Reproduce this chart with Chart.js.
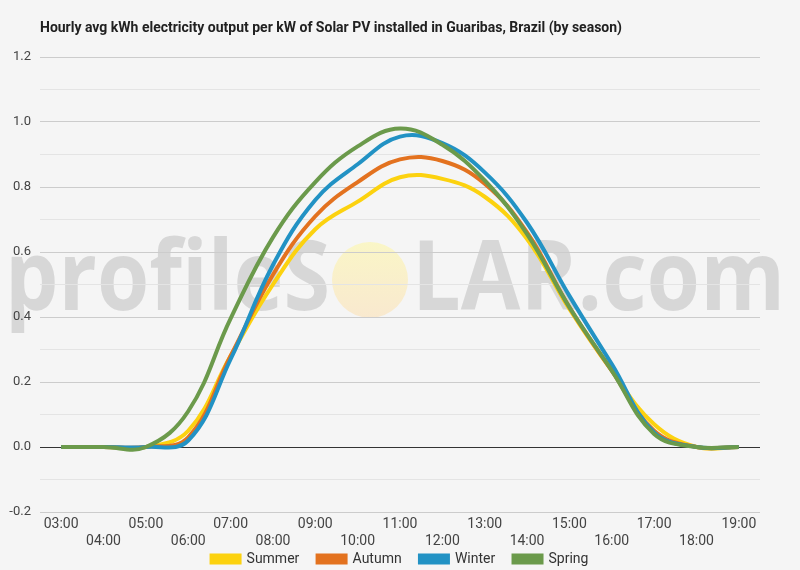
<!DOCTYPE html>
<html lang="en">
<head>
  <meta charset="UTF-8" />
  <title>Guaribas solar output by season</title>
  <script src="https://cdn.jsdelivr.net/npm/chart.js"></script>
  <style>
    html, body {
      margin: 0;
      padding: 0;
      background: #f5f5f5;
    }
    #wrap {
      width: 800px;
      height: 570px;
    }
  </style>
</head>
<body>
  <div id="wrap"><canvas id="solarChart" width="800" height="570"></canvas></div>

  <script>
    const titleText = "Hourly avg kWh electricity output per kW of Solar PV installed in Guaribas, Brazil (by season)";

    const hours = ["03:00", "04:00", "05:00", "06:00", "07:00", "08:00", "09:00", "10:00", "11:00",
                   "12:00", "13:00", "14:00", "15:00", "16:00", "17:00", "18:00", "19:00"];

    const summer = [0, 0, 0, 0.05, 0.28, 0.50, 0.67, 0.755, 0.83, 0.825, 0.77, 0.64, 0.425, 0.235, 0.07, 0, 0];
    const autumn = [0, 0, 0, 0.03, 0.28, 0.53, 0.71, 0.815, 0.885, 0.88, 0.81, 0.66, 0.43, 0.235, 0.05, 0, 0];
    const winter = [0, 0, 0, 0.02, 0.27, 0.56, 0.76, 0.87, 0.955, 0.935, 0.845, 0.69, 0.465, 0.255, 0.045, 0, 0];
    const spring = [0, 0, 0, 0.11, 0.395, 0.645, 0.815, 0.925, 0.98, 0.93, 0.82, 0.655, 0.43, 0.235, 0.04, 0, 0];

    const seasonNames = ["Summer", "Autumn", "Winter", "Spring"];
    const seasonColors = ["#fcd20f", "#e3721f", "#2292c4", "#6b9a4b"];

    // background + title + watermark
    const backdrop = {
      id: "backdrop",
      beforeDraw(chart) {
        const ctx = chart.ctx;
        ctx.save();
        ctx.fillStyle = "#f5f5f5";
        ctx.fillRect(0, 0, chart.width, chart.height);

        // profileSOLAR watermark
        ctx.fillStyle = "rgba(0,0,0,0.12)";
        ctx.font = "bold 96px 'Open Sans'";
        ctx.textBaseline = "alphabetic";
        const left = "profileS", right = "LAR.com";
        let w = ctx.measureText(left).width;
        ctx.save();
        ctx.translate(5, 310);
        ctx.scale(325 / w, 1);
        ctx.fillText(left, 0, 0);
        ctx.restore();
        w = ctx.measureText(right).width;
        ctx.save();
        ctx.translate(412, 310);
        ctx.scale(373 / w, 1);
        ctx.fillText(right, 0, 0);
        ctx.restore();

        const g = ctx.createLinearGradient(0, 242, 0, 318);
        g.addColorStop(0, "rgba(250,246,196,0.95)");
        g.addColorStop(1, "rgba(249,232,205,0.95)");
        ctx.fillStyle = g;
        ctx.beginPath();
        ctx.arc(370, 280, 38, 0, Math.PI * 2);
        ctx.fill();

        // title
        ctx.fillStyle = "#212121";
        ctx.font = "bold 14px Roboto";
        ctx.textBaseline = "middle";
        w = ctx.measureText(titleText).width;
        ctx.translate(40, 28);
        if (w > 582) ctx.scale(582 / w, 1);
        ctx.fillText(titleText, 0, 0);
        ctx.restore();
      }
    };

    const datasets = seasonNames.map((name, i) => ({
      // en spaces widen the gap between legend items (last one needs none)
      label: i < seasonNames.length - 1 ? name + "\u2002\u2002" : name,
      data: [summer, autumn, winter, spring][i],
      borderColor: seasonColors[i],
      backgroundColor: seasonColors[i],
      borderWidth: 4,
      pointRadius: 0,
      tension: 0.4,
      fill: false,
      order: 3 - i
    }));

    new Chart(document.getElementById("solarChart"), {
      type: "line",
      data: { labels: hours, datasets: datasets },
      options: {
        responsive: false,
        animation: false,
        layout: { padding: { top: 57, right: 0, left: 0, bottom: -6 } },
        plugins: {
          title: { display: false },
          tooltip: { enabled: false },
          legend: {
            position: "bottom",
            labels: {
              boxWidth: 28,
              boxHeight: 7,
              padding: 4,
              color: "#333",
              font: { family: "Roboto", size: 14 },
              sort: (a, b) => a.datasetIndex - b.datasetIndex
            }
          }
        },
        scales: {
          x: {
            offset: true,
            grid: { display: false, drawTicks: false },
            border: { display: false },
            afterFit(scale) { scale.height = 36; },
            ticks: {
              autoSkip: false,
              maxRotation: 0,
              padding: 4,
              color: "#444",
              font: { family: "Roboto", size: 14, lineHeight: 1.2 },
              callback(value, index) {
                const lab = hours[index];
                return index % 2 === 0 ? [lab, ""] : ["", lab];
              }
            }
          },
          y: {
            min: -0.2,
            max: 1.2,
            afterFit(scale) { scale.width = 40; },
            border: { display: false },
            grid: {
              drawTicks: false,
              lineWidth: 1,
              color(c) {
                const v = Math.round(c.tick.value * 10);
                if (v === 0) return "#333333";
                return v % 2 === 0 ? "#cccccc" : "#e4e4e4";
              }
            },
            ticks: {
              stepSize: 0.1,
              padding: 9,
              color: "#444",
              font: { family: "Roboto", size: 13 },
              callback(value) {
                const v = Math.round(value * 10);
                return v % 2 === 0 ? (v / 10).toFixed(1) : "";
              }
            }
          },
          // empty right-hand axis, only keeps the 40px margin on the right
          yRight: {
            position: "right",
            min: -0.2,
            max: 1.2,
            afterFit(scale) { scale.width = 40; },
            border: { display: false },
            grid: { display: false },
            ticks: { display: false }
          }
        }
      },
      plugins: [backdrop]
    });
  </script>
</body>
</html>
